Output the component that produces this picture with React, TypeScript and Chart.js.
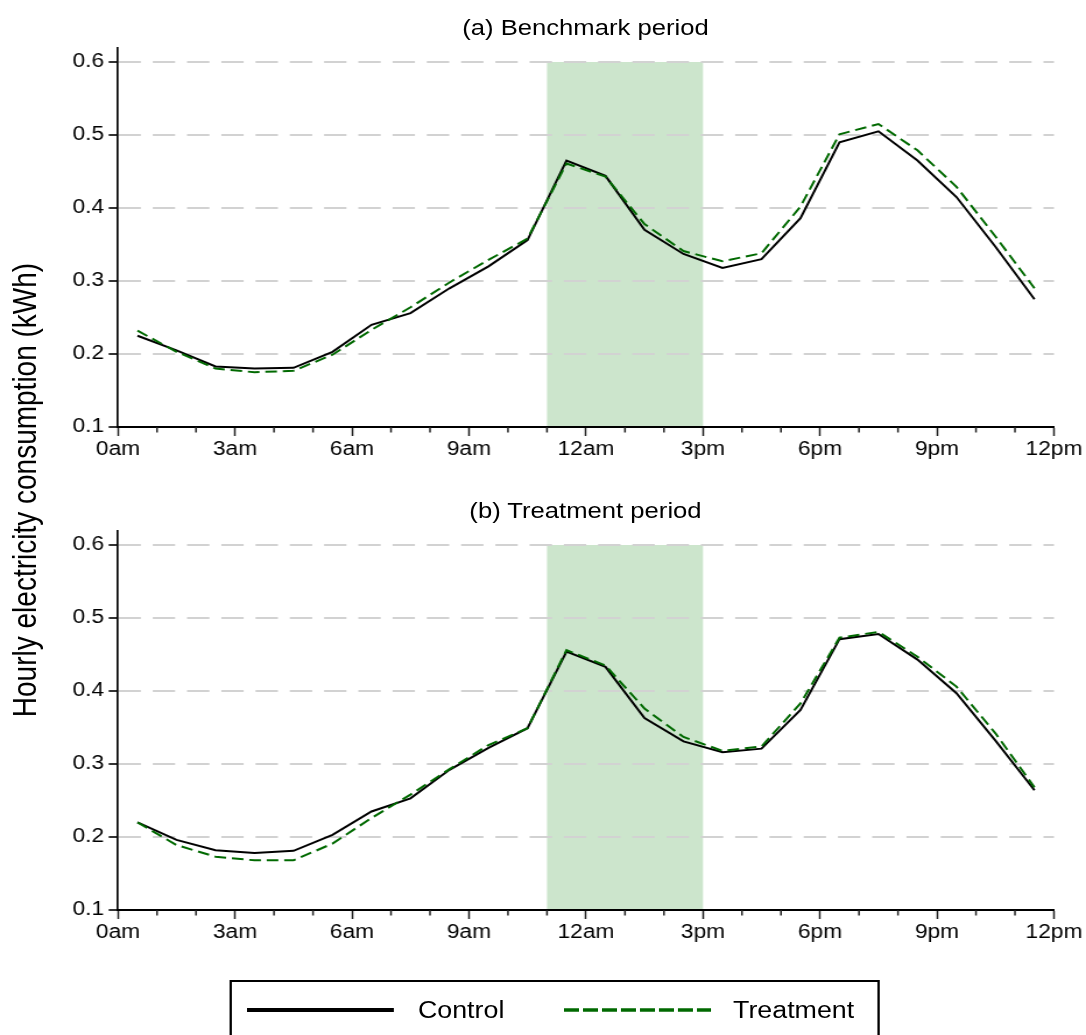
import React, { useEffect, useRef } from 'react';
import { Chart, registerables } from 'chart.js';

Chart.register(...registerables);

// Hour-of-day midpoints for the hourly averages
const hours = [0.5, 1.5, 2.5, 3.5, 4.5, 5.5, 6.5, 7.5, 8.5, 9.5, 10.5, 11.5, 12.5, 13.5, 14.5, 15.5, 16.5, 17.5, 18.5, 19.5, 20.5, 21.5, 22.5, 23.5];

// (a) Benchmark period
const benchmarkControl = [0.225, 0.205, 0.183, 0.180, 0.181, 0.203, 0.240, 0.256, 0.290, 0.320, 0.356, 0.465, 0.444, 0.370, 0.337, 0.318, 0.330, 0.386, 0.490, 0.505, 0.465, 0.415, 0.347, 0.275];
const benchmarkTreatment = [0.232, 0.203, 0.180, 0.175, 0.177, 0.199, 0.233, 0.264, 0.298, 0.329, 0.358, 0.461, 0.443, 0.378, 0.341, 0.327, 0.338, 0.402, 0.501, 0.515, 0.479, 0.429, 0.361, 0.290];

// (b) Treatment period
const treatmentControl = [0.220, 0.196, 0.182, 0.178, 0.181, 0.203, 0.235, 0.253, 0.292, 0.322, 0.349, 0.454, 0.433, 0.363, 0.331, 0.316, 0.321, 0.374, 0.471, 0.478, 0.443, 0.397, 0.332, 0.264];
const treatmentTreatment = [0.220, 0.189, 0.173, 0.168, 0.168, 0.191, 0.226, 0.258, 0.293, 0.326, 0.349, 0.456, 0.435, 0.376, 0.337, 0.318, 0.324, 0.383, 0.473, 0.481, 0.447, 0.406, 0.342, 0.268];

// Axes
const hourTicks = [0, 1, 2, 3, 4, 5, 6, 7, 8, 9, 10, 11, 12, 13, 14, 15, 16, 17, 18, 19, 20, 21, 22, 23, 24];
const hourLabels = ['0am', '3am', '6am', '9am', '12am', '3pm', '6pm', '9pm', '12pm'];
const yTicks = [0.1, 0.2, 0.3, 0.4, 0.5, 0.6];
const yMin = 0.1;
const yMax = 0.62;

// Peak-hour window (shaded)
const peakStart = 11;
const peakEnd = 15;
const peakTop = 0.6;

const FONT = '"Liberation Sans", Arial, Helvetica, sans-serif';
const BASE_W = 932;
const SX = 1086 / BASE_W;
const GREEN = 'rgb(0,105,0)';
const SHADE = 'rgb(204,229,204)';

const peakShade = {
  id: 'peakShade',
  beforeDraw(chart: any) {
    const { ctx, scales } = chart;
    const x = scales.x;
    const y = scales.y;
    const l = x.getPixelForValue(peakStart);
    const r = x.getPixelForValue(peakEnd);
    const t = y.getPixelForValue(peakTop);
    const b = y.getPixelForValue(yMin);
    ctx.save();
    ctx.fillStyle = SHADE;
    ctx.fillRect(l, t, r - l, b - t);
    ctx.restore();
  },
};

const minorTicks = {
  id: 'minorTicks',
  afterDraw(chart: any) {
    const { ctx, scales, chartArea } = chart;
    const x = scales.x;
    ctx.save();
    ctx.strokeStyle = '#222';
    ctx.lineWidth = 1.5;
    for (const h of hourTicks) {
      if (h % 3 === 0) continue;
      const px = x.getPixelForValue(h);
      ctx.beginPath();
      ctx.moveTo(px, chartArea.bottom);
      ctx.lineTo(px, chartArea.bottom + 5.5);
      ctx.stroke();
    }
    ctx.restore();
  },
};

function Panel({ top, control, treatment }: { top: number; control: number[]; treatment: number[] }) {
  const ref = useRef<HTMLCanvasElement>(null);
  useEffect(() => {
    const canvas = ref.current as HTMLCanvasElement;
    const chart = new Chart(canvas, {
      type: 'line',
      data: {
        datasets: [
          {
            label: 'Treatment',
            data: hours.map((h, i) => ({ x: h, y: treatment[i] })),
            borderColor: GREEN,
            borderWidth: 2,
            borderDash: [10, 5],
            pointRadius: 0,
            fill: false,
            tension: 0,
            order: 1,
          },
          {
            label: 'Control',
            data: hours.map((h, i) => ({ x: h, y: control[i] })),
            borderColor: '#000',
            borderWidth: 2,
            pointRadius: 0,
            fill: false,
            tension: 0,
            order: 2,
          },
        ],
      },
      options: {
        responsive: false,
        maintainAspectRatio: false,
        animation: false,
        devicePixelRatio: 1,
        layout: { padding: { top: 47.4, right: 27.5, bottom: 0, left: 0 } },
        plugins: {
          legend: { display: false },
          tooltip: { enabled: false },
          title: { display: false },
        },
        scales: {
          x: {
            type: 'linear',
            min: 0,
            max: 24,
            afterBuildTicks: (s: any) => {
              s.ticks = hourTicks.map((v) => ({ value: v }));
            },
            afterFit: (s: any) => {
              s.height = 48;
            },
            ticks: {
              autoSkip: false,
              maxRotation: 0,
              padding: 2,
              color: '#000',
              font: { family: FONT, size: 19.5 },
              callback: (v: any) => (Number(v) % 3 === 0 ? hourLabels[Number(v) / 3] : ''),
            },
            grid: {
              drawOnChartArea: false,
              drawTicks: true,
              tickLength: 9,
              tickWidth: 1.5,
              tickColor: (c: any) => (c.tick && c.tick.value % 3 === 0 ? '#222' : 'rgba(0,0,0,0)'),
            },
            border: { display: true, color: '#000', width: 2 },
          },
          y: {
            type: 'linear',
            min: yMin,
            max: yMax,
            afterBuildTicks: (s: any) => {
              s.ticks = yTicks.map((v) => ({ value: v }));
            },
            afterFit: (s: any) => {
              s.width = 118 / SX;
            },
            ticks: {
              padding: 4,
              color: '#000',
              font: { family: FONT, size: 19.5 },
              callback: (v: any) => Number(v).toFixed(1),
            },
            grid: {
              color: (c: any) => (c.tick && Math.abs(c.tick.value - yMin) < 1e-9 ? 'rgba(0,0,0,0)' : '#d2d2d2'),
              lineWidth: 2,
              tickLength: 8,
              tickWidth: 2,
              tickColor: '#333',
            },
            border: { display: true, color: '#000', width: 1.7, dash: [19.2, 10.2] },
          },
        },
      } as any,
      plugins: [peakShade, minorTicks],
    });
    return () => chart.destroy();
  }, [control, treatment]);

  return (
    <canvas
      ref={ref}
      width={BASE_W}
      height={475}
      style={{ position: 'absolute', left: 0, top, width: BASE_W + 'px', height: '475px' }}
    />
  );
}

const titleStyle = (top: number): React.CSSProperties => ({
  position: 'absolute',
  left: 585.5 / SX - 300,
  width: 600,
  top,
  textAlign: 'center',
  fontFamily: FONT,
  fontSize: 22,
  lineHeight: '22px',
  color: '#000',
  whiteSpace: 'nowrap',
});

export default function App() {
  return (
    <div style={{ position: 'absolute', left: 0, top: 0, width: 1086, height: 1035, overflow: 'hidden', background: '#fff' }}>
      <div
        style={{
          position: 'absolute',
          left: 0,
          top: 0,
          width: BASE_W,
          height: 1035,
          transform: `scaleX(${SX})`,
          transformOrigin: '0 0',
        }}
      >
        <Panel top={0} control={benchmarkControl} treatment={benchmarkTreatment} />
        <Panel top={483} control={treatmentControl} treatment={treatmentTreatment} />

        <div style={titleStyle(17)}>(a) Benchmark period</div>
        <div style={titleStyle(499.5)}>(b) Treatment period</div>

        <div
          style={{
            position: 'absolute',
            left: 21.8 - 300,
            top: 490 - 14,
            width: 600,
            height: 28,
            textAlign: 'center',
            fontFamily: FONT,
            fontSize: 28,
            lineHeight: '28px',
            color: '#000',
            whiteSpace: 'nowrap',
            transform: 'rotate(-90deg)',
            transformOrigin: '50% 50%',
          }}
        >
          Hourly electricity consumption (kWh)
        </div>

        {/* Legend */}
        <div
          style={{
            position: 'absolute',
            left: 197.4,
            top: 980,
            width: 557.8,
            height: 120,
            border: '2px solid #000',
            boxSizing: 'border-box',
          }}
        />
        <div style={{ position: 'absolute', left: 212, top: 1008.25, width: 126.1, height: 3.5, background: '#000' }} />
        <div style={{ position: 'absolute', left: 358.7, top: 998.7, fontFamily: FONT, fontSize: 23, lineHeight: '23px', color: '#000', whiteSpace: 'nowrap' }}>
          Control
        </div>
        <svg style={{ position: 'absolute', left: 484, top: 1000 }} width={127} height={20}>
          <line x1={0} y1={10} x2={126.2} y2={10} stroke={GREEN} strokeWidth={3.5} strokeDasharray="12.9 3.4" />
        </svg>
        <div style={{ position: 'absolute', left: 629.1, top: 998.7, fontFamily: FONT, fontSize: 23, lineHeight: '23px', color: '#000', whiteSpace: 'nowrap' }}>
          Treatment
        </div>
      </div>
    </div>
  );
}
